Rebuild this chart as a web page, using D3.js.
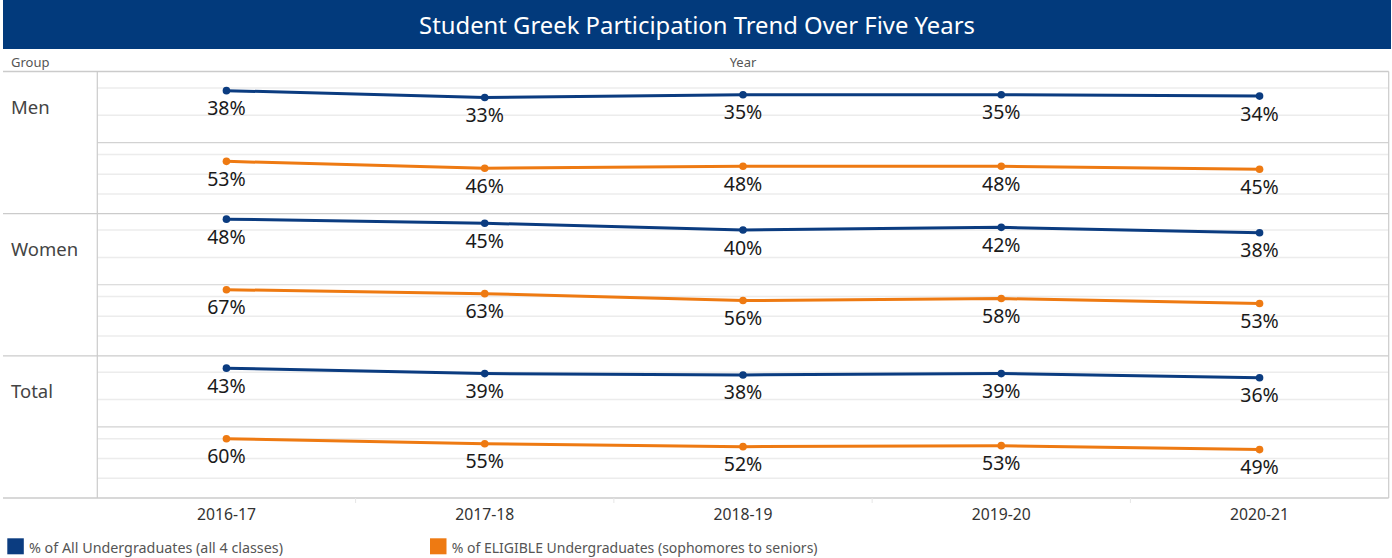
<!DOCTYPE html>
<html>
<head>
<meta charset="utf-8">
<script src="https://cdn.jsdelivr.net/npm/d3@7"></script>
<style>
  html, body { margin: 0; padding: 0; background: #fff; }
  svg { display: block; font-family: "Noto Sans", "Open Sans", sans-serif; }
</style>
</head>
<body>
<svg id="chart" width="1392" height="558"></svg>
<script>
// ---- data ----
const years = ["2016-17", "2017-18", "2018-19", "2019-20", "2020-21"];
const groups = ["Men", "Women", "Total"];
const seriesNames = ["% of All Undergraduates (all 4 classes)", "% of ELIGIBLE Undergraduates (sophomores to seniors)"];
const menAll = [38, 33, 35, 35, 34];
const menEligible = [53, 46, 48, 48, 45];
const womenAll = [48, 45, 40, 42, 38];
const womenEligible = [67, 63, 56, 58, 53];
const totalAll = [43, 39, 38, 39, 36];
const totalEligible = [60, 55, 52, 53, 49];
const titleText = "Student Greek Participation Trend Over Five Years";

const allByGroup = [menAll, womenAll, totalAll];
const eligByGroup = [menEligible, womenEligible, totalEligible];

// ---- layout ----
const svg = d3.select("#chart");
const leftEdge = 3, colRight = 97.3, rightEdge = 1388.7;
const plotTop = 71.5, plotBottom = 498;
const subH = (plotBottom - plotTop) / 6;
const colors = ["#0b3c80", "#ee7a12"];
const domains = [[0, 52], [0, 72]];

function fitWidth(sel, target) {
  const w = sel.node().getComputedTextLength();
  const fs = parseFloat(sel.attr("font-size"));
  if (w > 0) sel.attr("font-size", (fs * target / w).toFixed(2));
}

// title bar
svg.append("rect").attr("x", 3).attr("y", 0).attr("width", 1388).attr("height", 49).attr("fill", "#023a7c");
const title = svg.append("text").attr("x", 697).attr("y", 33.5).attr("text-anchor", "middle")
  .attr("fill", "#fff").attr("font-size", 23).text(titleText);
fitWidth(title, 556);

// headers
svg.append("text").attr("x", 11).attr("y", 66.5).attr("font-size", 13).attr("fill", "#555").text("Group");
const x = d3.scaleBand().domain(years).range([colRight, rightEdge]).paddingInner(0).paddingOuter(0);
svg.append("text").attr("x", (colRight + rightEdge) / 2).attr("y", 66.5).attr("text-anchor", "middle")
  .attr("font-size", 13).attr("fill", "#555").text("Year");

const line = d3.line();

groups.forEach((g, gi) => {
  const gTop = plotTop + gi * 2 * subH;
  [allByGroup[gi], eligByGroup[gi]].forEach((vals, si) => {
    const pTop = gTop + si * subH;
    const pBot = pTop + subH;
    const y = d3.scaleLinear().domain(domains[si]).range([pBot, pTop]);
    const panel = svg.append("g");
    // gridlines
    y.ticks(si === 0 ? 3 : 4).filter(t => t > 0).forEach(t => {
      panel.append("line").attr("x1", colRight).attr("x2", rightEdge)
        .attr("y1", y(t)).attr("y2", y(t)).attr("stroke", "#ececec").attr("stroke-width", 1.5);
    });
    const pts = vals.map((v, i) => [x(years[i]) + x.bandwidth() / 2, y(v)]);
    panel.append("path").attr("d", line(pts)).attr("fill", "none")
      .attr("stroke", colors[si]).attr("stroke-width", 3).attr("stroke-linejoin", "round");
    panel.selectAll("circle").data(pts).join("circle")
      .attr("cx", d => d[0]).attr("cy", d => d[1]).attr("r", 3.8).attr("fill", colors[si]);
    panel.selectAll("text.val").data(vals).join("text").attr("class", "val")
      .attr("x", (d, i) => pts[i][0]).attr("y", (d, i) => pts[i][1] + 24.5)
      .attr("text-anchor", "middle").attr("font-size", 19.5).attr("fill", "#1a1a1a")
      .text(d => d + "%");
    if (si === 0) {
      svg.append("line").attr("x1", colRight).attr("x2", rightEdge).attr("y1", pBot).attr("y2", pBot)
        .attr("stroke", "#d2d2d2").attr("stroke-width", 1.2);
    }
  });
  svg.append("text").attr("x", 11).attr("y", gTop + subH / 2 + 7).attr("font-size", 18.5)
    .attr("fill", "#444").text(g);
});

// group separators
for (let i = 0; i <= 3; i++) {
  const yy = plotTop + i * 2 * subH;
  svg.append("line").attr("x1", leftEdge).attr("x2", rightEdge).attr("y1", yy).attr("y2", yy)
    .attr("stroke", "#cbcbcb").attr("stroke-width", 1.3);
}
// vertical borders
[colRight, rightEdge].forEach(xx => {
  svg.append("line").attr("x1", xx).attr("x2", xx).attr("y1", plotTop).attr("y2", plotBottom)
    .attr("stroke", "#cbcbcb").attr("stroke-width", 1.2);
});

// x axis
const axisG = svg.append("g").attr("transform", `translate(0,${plotBottom})`)
  .call(d3.axisBottom(x).tickSize(0).tickPadding(11));
axisG.select(".domain").remove();
axisG.selectAll("text").attr("font-size", 15).attr("fill", "#333")
  .attr("font-family", "'Noto Sans', 'Open Sans', sans-serif");
axisG.selectAll("text").each(function () { fitWidth(d3.select(this), 59); });
years.slice(1).forEach(yv => {
  svg.append("line").attr("x1", x(yv)).attr("x2", x(yv)).attr("y1", plotBottom).attr("y2", plotBottom + 5)
    .attr("stroke", "#e6e6e6");
});

// legend
const legX = [7.3, 430];
seriesNames.forEach((s, i) => {
  svg.append("rect").attr("x", legX[i]).attr("y", 538.3).attr("width", 16.5).attr("height", 16)
    .attr("fill", colors[i]);
  const t = svg.append("text").attr("x", legX[i] + 21.7).attr("y", 553).attr("font-size", 14)
    .attr("fill", "#555").text(s);
  fitWidth(t, i === 0 ? 254 : 366);
});
</script>
</body>
</html>
